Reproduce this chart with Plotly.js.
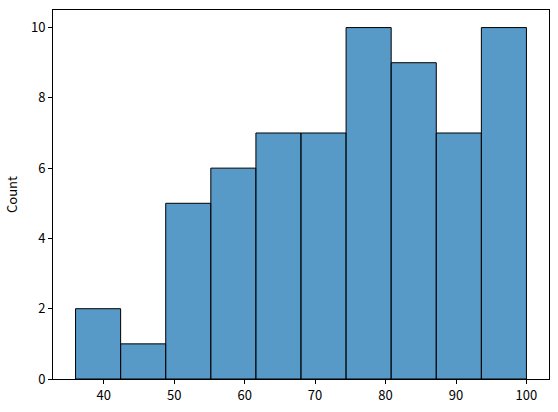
<!DOCTYPE html>
<html><head><meta charset="utf-8">
<script src="https://cdn.plot.ly/plotly-3.0.1.min.js"></script>
<style>html,body{margin:0;padding:0;background:#fff}#chart{width:558px;height:412px}</style>
</head><body><div id="chart"></div>
<script>
const binEdges = [36, 42.4, 48.8, 55.2, 61.6, 68, 74.4, 80.8, 87.2, 93.6, 100];
const counts = [2, 1, 5, 6, 7, 7, 10, 9, 7, 10];
const xTicks = [40, 50, 60, 70, 80, 90, 100];
const yTicks = [0, 2, 4, 6, 8, 10];

const centers = counts.map((_, i) => (binEdges[i] + binEdges[i + 1]) / 2);
const widths = counts.map((_, i) => binEdges[i + 1] - binEdges[i]);
const fontFam = '"Noto Sans CJK JP", sans-serif';

Plotly.newPlot('chart', [{
  type: 'bar', x: centers, y: counts, width: widths,
  marker: {color: 'rgba(31,119,180,0.75)', line: {color: '#000', width: 1}},
  hoverinfo: 'skip'
}], {
  width: 558, height: 412,
  margin: {l: 53, r: 9, t: 10, b: 33},
  paper_bgcolor: '#fff', plot_bgcolor: '#fff',
  font: {family: fontFam, size: 13, color: '#000'},
  showlegend: false, bargap: 0,
  xaxis: {range: [32.8, 103.2], tickvals: xTicks, ticks: 'outside', ticklen: 4, tickcolor: '#000',
    tickfont: {family: fontFam, size: 13, color: '#000'},
    showgrid: false, zeroline: false, showline: true, mirror: true, linecolor: '#000', linewidth: 1},
  yaxis: {range: [0, 10.5], tickvals: yTicks, ticks: 'outside', ticklen: 4, tickcolor: '#000',
    tickfont: {family: fontFam, size: 13, color: '#000'},
    showgrid: false, zeroline: false, showline: true, mirror: true, linecolor: '#000', linewidth: 1,
    title: {text: 'Count', standoff: 10, font: {family: fontFam, size: 13, color: '#000'}}}
}, {displayModeBar: false, staticPlot: true});
</script></body></html>
